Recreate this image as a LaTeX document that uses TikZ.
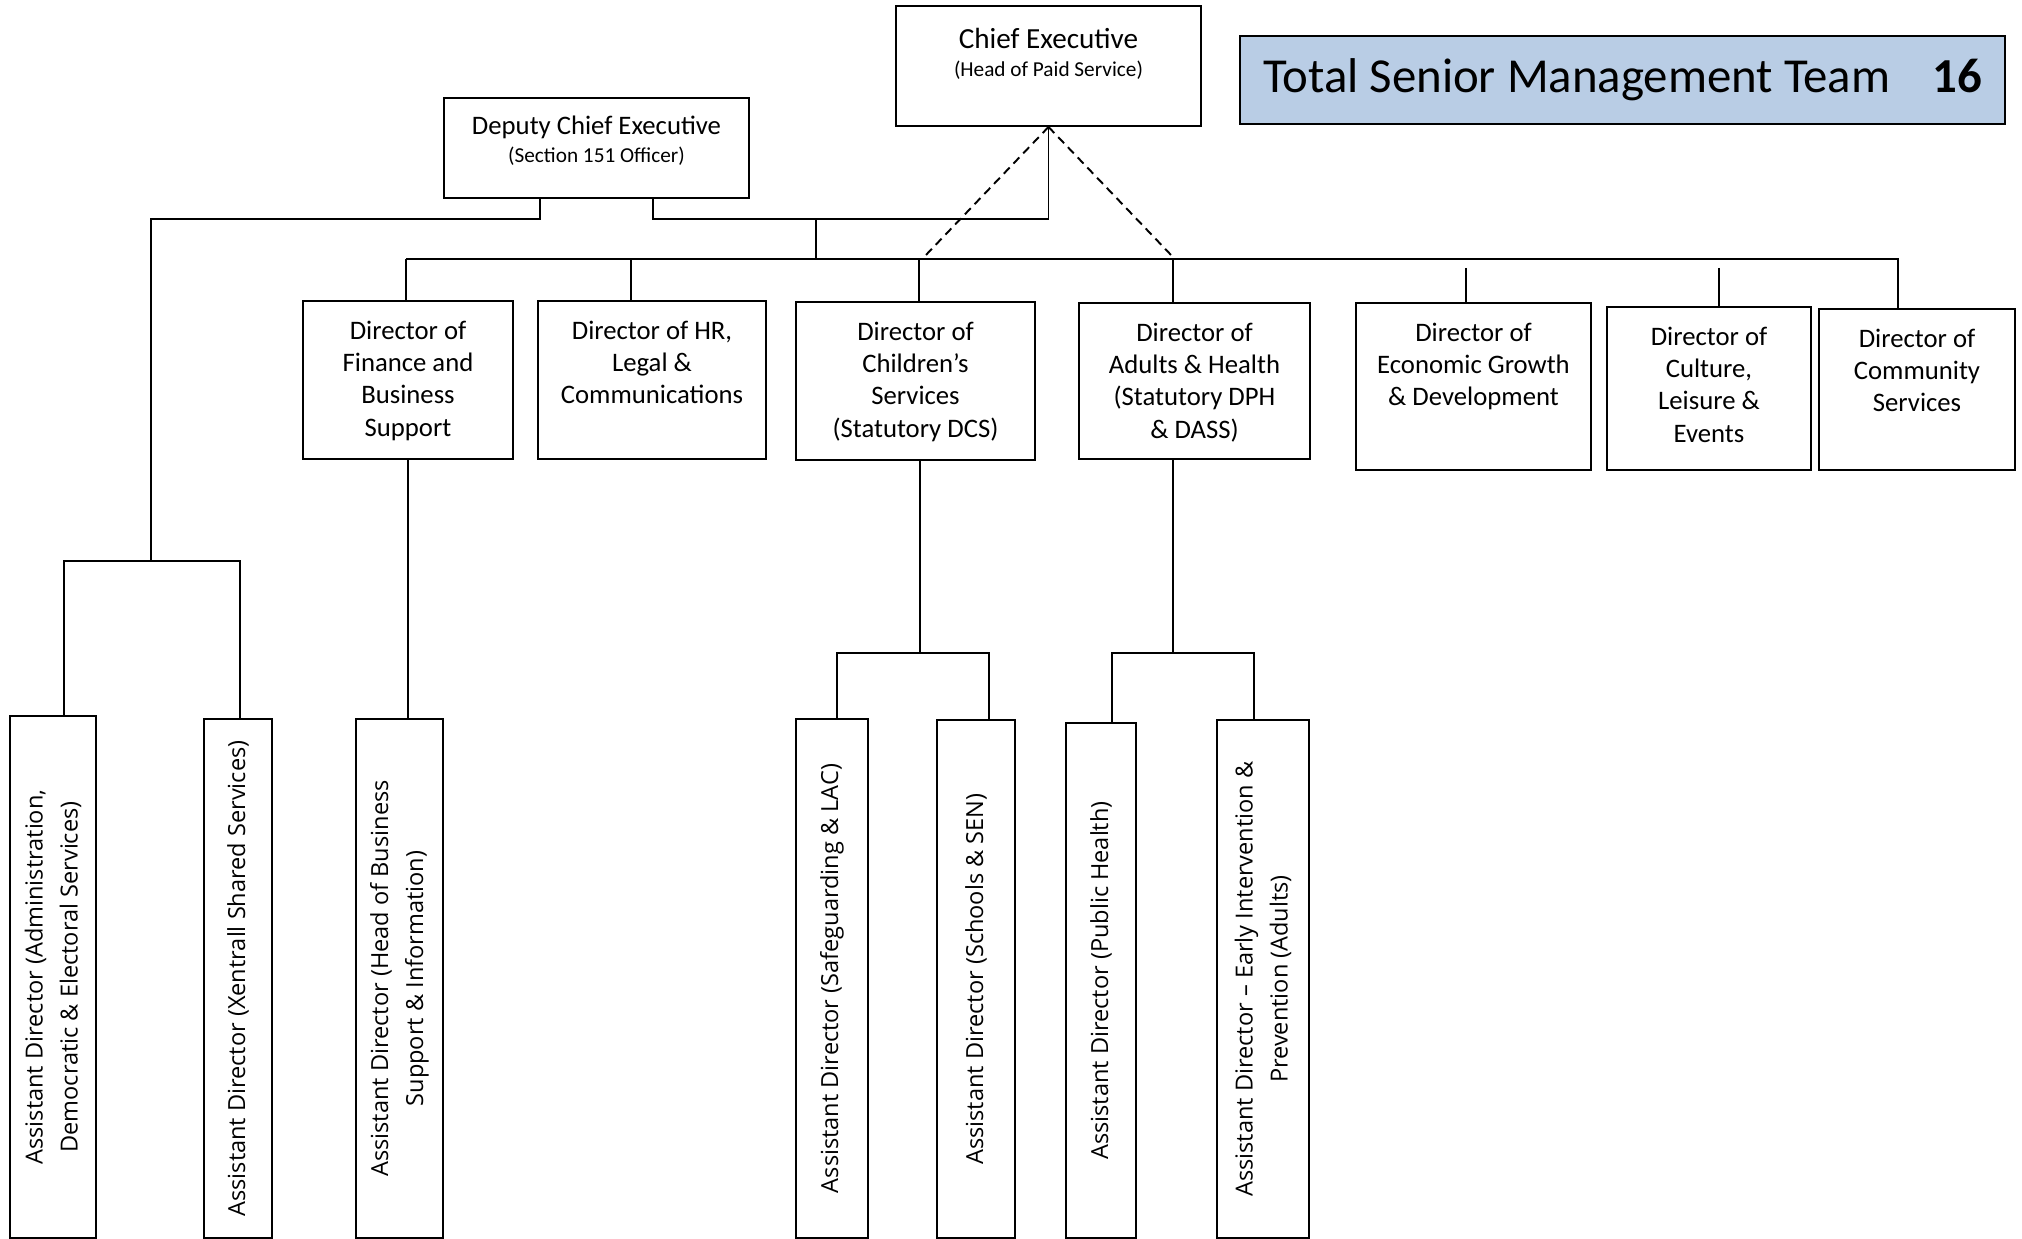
\documentclass[tikz,border=0pt]{standalone}
\usepackage{fontspec}
\setmainfont{Carlito}
\newfontfamily\adfont{Open Sans}
\usetikzlibrary{positioning,calc}
\definecolor{smtblue}{HTML}{B9CDE5}

\begin{document}
\begin{tikzpicture}[
  post/.style={rectangle, draw, line width=0.55pt, inner sep=0pt},
  toptitle/.style={inner sep=0pt, anchor=base, font=\fontsize{8.3}{10}\selectfont},
  topsub/.style={inner sep=0pt, anchor=base, font=\fontsize{6.05}{7.3}\selectfont},
  dirtext/.style={inner sep=0pt, align=center, font=\fontsize{7.6}{9.22}\selectfont},
  asst/.style={post, rotate=90, align=center, font=\adfont\fontsize{6.7}{9.96}\selectfont},
  link/.style={line width=0.55pt},
  dotted link/.style={line width=0.55pt, dash pattern=on 2.4pt off 1.6pt}
]
\useasboundingbox (0,0) rectangle (20.22,-12.39);

% Top of the structure
\node[post, minimum width=3.05cm, minimum height=1.20cm] (ce) at (10.485,-0.66) {};
\node[toptitle] (ceT) at ($(ce.north)+(0,-0.43)$) {Chief Executive};
\node[topsub] (ceS) at ($(ce.north)+(0,-0.715)$) {(Head of Paid Service)};

\node[post, minimum width=3.05cm, minimum height=1.00cm] (dce) at (5.965,-1.48) {};
\node[toptitle, font=\fontsize{7.6}{9}\selectfont] (dceT) at ($(dce.north)+(0,-0.37)$) {Deputy Chief Executive};
\node[topsub] (dceS) at ($(dce.north)+(0,-0.655)$) {(Section 151 Officer)};

\node[post, fill=smtblue, minimum width=7.65cm, minimum height=0.88cm,
      font=\fontsize{13.9}{16}\selectfont] (tot) at (16.225,-0.80)
  {Total Senior Management Team\hspace{0.42cm}\textbf{16}};

% Directors
\node[post, minimum width=2.10cm, minimum height=1.58cm] (fin) at (4.08,-3.80) {};
\node[post, minimum width=2.28cm, minimum height=1.58cm] (hr)  at (6.52,-3.80) {};
\node[post, minimum width=2.39cm, minimum height=1.58cm] (chi) at (9.155,-3.81) {};
\node[post, minimum width=2.31cm, minimum height=1.56cm] (adu) at (11.945,-3.81) {};
\node[post, minimum width=2.35cm, minimum height=1.67cm] (eco) at (14.735,-3.865) {};
\node[post, minimum width=2.04cm, minimum height=1.63cm] (cul) at (17.09,-3.885) {};
\node[post, minimum width=1.96cm, minimum height=1.61cm] (com) at (19.17,-3.895) {};

\node[dirtext, below=0.2cm of fin.north] (finT) {Director of\\Finance and\\Business\\Support};
\node[dirtext, below=0.2cm of hr.north]  (hrT)  {Director of HR,\\Legal \&\\Communications};
\node[dirtext, below=0.2cm of chi.north] (chiT) {Director of\\Children’s\\Services\\(Statutory DCS)};
\node[dirtext, below=0.2cm of adu.north] (aduT) {Director of\\Adults \& Health\\(Statutory DPH\\\& DASS)};
\node[dirtext, below=0.2cm of eco.north] (ecoT) {Director of\\Economic Growth\\\& Development};
\node[dirtext, below=0.2cm of cul.north] (culT) {Director of\\Culture,\\Leisure \&\\Events};
\node[dirtext, below=0.2cm of com.north] (comT) {Director of\\Community\\Services};

% Assistant directors (rotated, so .east is the top edge)
\node[asst, minimum width=5.22cm, minimum height=0.86cm] (ad1) at (0.53,-9.77)
  {Assistant Director (Administration,\\Democratic \& Electoral Services)};
\node[asst, minimum width=5.19cm, minimum height=0.68cm] (ad2) at (2.38,-9.785)
  {Assistant Director (Xentrall Shared Services)};
\node[asst, minimum width=5.19cm, minimum height=0.87cm] (ad3) at (3.995,-9.785)
  {Assistant Director (Head of Business\\Support \& Information)};
\node[asst, minimum width=5.19cm, minimum height=0.72cm] (ad4) at (8.32,-9.785)
  {Assistant Director (Safeguarding \& LAC)};
\node[asst, minimum width=5.18cm, minimum height=0.78cm] (ad5) at (9.76,-9.79)
  {Assistant Director (Schools \& SEN)};
\node[asst, minimum width=5.15cm, minimum height=0.70cm] (ad6) at (11.01,-9.805)
  {Assistant Director (Public Health)};
\node[asst, minimum width=5.18cm, minimum height=0.92cm] (ad7) at (12.63,-9.79)
  {Assistant Director \textendash{} Early Intervention \&\\Prevention (Adults)};

% Lines from the deputy
\coordinate (dl) at (5.40,-2.19);
\coordinate (dr) at (6.53,-2.19);
\coordinate (jn) at (8.16,-2.19);
\coordinate (adL) at (1.51,-5.61);
\coordinate (adL1) at (0.64,-5.61);
\coordinate (adL2) at (2.40,-5.61);
\draw[link] (dl |- dce.south) -- (dl) -| (adL);
\draw[link] (adL1 |- ad1.east) -- (adL1) -- (adL2) -- (adL2 |- ad2.east);
\draw[link] (dr |- dce.south) -- (dr) -| (ce.south);

% Main bus to the directors
\coordinate (busL) at (4.06,-2.59);
\coordinate (busR) at (18.98,-2.59);
\draw[link] (jn) -- (jn |- busL);
\draw[link] (busL) -- (busR) -- (busR |- com.north);
\foreach \x/\b in {4.06/fin, 6.31/hr, 9.19/chi, 11.73/adu} {
  \coordinate (s\b) at (\x,-2.59);
  \draw[link] (s\b) -- (s\b |- \b.north);
}
\coordinate (ecoS) at (14.66,-2.68);
\coordinate (culS) at (17.19,-2.68);
\draw[link] (ecoS) -- (ecoS |- eco.north);
\draw[link] (culS) -- (culS |- cul.north);

% Dotted reporting lines
\coordinate (dsh1) at (9.25,-2.56);
\coordinate (dsh2) at (11.72,-2.56);
\draw[dotted link] (ce.south) -- (dsh1);
\draw[dotted link] (ce.south) -- (dsh2);

% Below the directors
\draw[link] (fin.south) -- (fin.south |- ad3.east);

\coordinate (chiB) at (9.20,-6.53);
\coordinate (chiL) at (8.37,-6.53);
\coordinate (chiR) at (9.89,-6.53);
\draw[link] (chiB |- chi.south) -- (chiB);
\draw[link] (chiL |- ad4.east) -- (chiL) -- (chiR) -- (chiR |- ad5.east);

\coordinate (aduB) at (11.73,-6.53);
\coordinate (aduL) at (11.12,-6.53);
\coordinate (aduR) at (12.54,-6.53);
\draw[link] (aduB |- adu.south) -- (aduB);
\draw[link] (aduL |- ad6.east) -- (aduL) -- (aduR) -- (aduR |- ad7.east);

\end{tikzpicture}
\end{document}
